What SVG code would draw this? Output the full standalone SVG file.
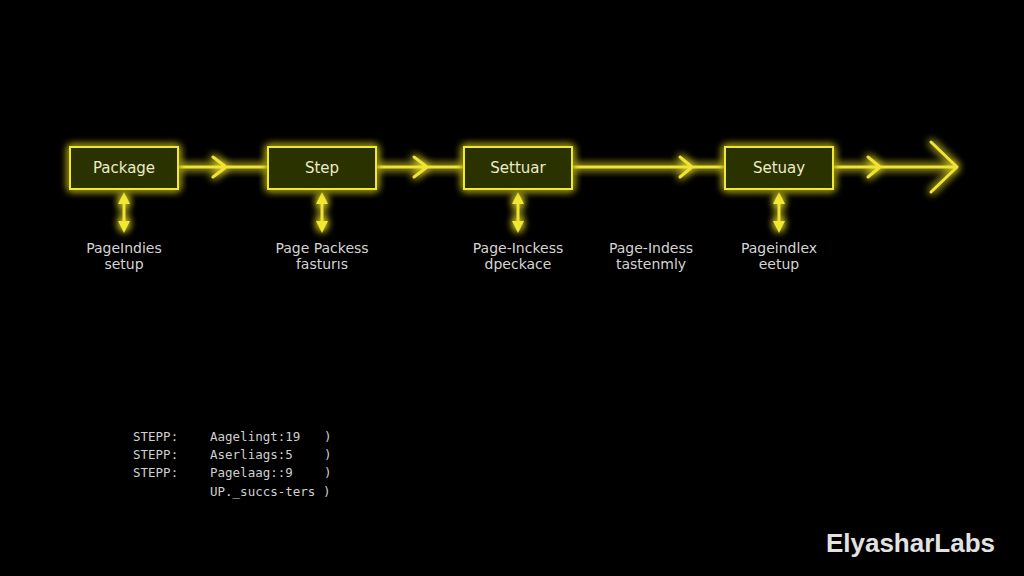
<svg xmlns="http://www.w3.org/2000/svg" width="1024" height="576" viewBox="0 0 1024 576">
<defs>
<filter id="glow" x="-50%" y="-50%" width="200%" height="200%">
<feGaussianBlur in="SourceGraphic" stdDeviation="4" result="b"/>
<feMerge><feMergeNode in="b"/><feMergeNode in="b"/><feMergeNode in="SourceGraphic"/></feMerge>
</filter>
<marker id="ah" viewBox="0 0 10 10" refX="5" refY="5" markerWidth="4" markerHeight="4" orient="auto-start-reverse" markerUnits="strokeWidth">
<path d="M0,0 L10,5 L0,10 z" fill="#f0e830"/>
</marker>
</defs>
<style>
.box{fill:#2b3104;stroke:#f2e830;stroke-width:2}
.ln{stroke:#f0e430;stroke-width:3;fill:none;stroke-linecap:round;stroke-linejoin:round}
.bt{font-family:"DejaVu Sans",sans-serif;font-size:15px;fill:#ecebc8;text-anchor:middle}
.lb{font-family:"DejaVu Sans",sans-serif;font-size:14px;fill:#d4d4d4;text-anchor:middle}
.mono{font-family:"DejaVu Sans Mono",monospace;font-size:12.5px;fill:#cfcfcf}
</style>
<rect width="1024" height="576" fill="#000"/>
<g id="connectors" filter="url(#glow)">
<path class="ln" d="M178,167 H268 M213,157 L226,167 L213,177"/>
<path class="ln" d="M376,167 H464 M414,157 L427,167 L414,177"/>
<path class="ln" d="M572,167 H725 M680,157 L692,167 L680,177"/>
<path class="ln" d="M833,167 H956 M868,157 L880,167 L868,177 M931,142 L957,167 L931,192"/>
<line class="ln" x1="124" y1="198" x2="124" y2="227" marker-start="url(#ah)" marker-end="url(#ah)" stroke-width="2.5"/>
<line class="ln" x1="322" y1="198" x2="322" y2="227" marker-start="url(#ah)" marker-end="url(#ah)" stroke-width="2.5"/>
<line class="ln" x1="518" y1="198" x2="518" y2="227" marker-start="url(#ah)" marker-end="url(#ah)" stroke-width="2.5"/>
<line class="ln" x1="779" y1="198" x2="779" y2="227" marker-start="url(#ah)" marker-end="url(#ah)" stroke-width="2.5"/>
</g>
<g id="node1"><rect class="box" x="70" y="147" width="108" height="42" filter="url(#glow)"/><text class="bt" x="124" y="173">Package</text></g>
<g id="node2"><rect class="box" x="268" y="147" width="108" height="42" filter="url(#glow)"/><text class="bt" x="322" y="173">Step</text></g>
<g id="node3"><rect class="box" x="464" y="147" width="108" height="42" filter="url(#glow)"/><text class="bt" x="518" y="173">Settuar</text></g>
<g id="node4"><rect class="box" x="725" y="147" width="108" height="42" filter="url(#glow)"/><text class="bt" x="779" y="173">Setuay</text></g>
<g id="labels">
<text class="lb" x="124" y="253">PageIndies</text><text class="lb" x="124" y="269">setup</text>
<text class="lb" x="322" y="253">Page Packess</text><text class="lb" x="322" y="269">fasturıs</text>
<text class="lb" x="518" y="253">Page-Inckess</text><text class="lb" x="518" y="269">dpeckace</text>
<text class="lb" x="651" y="253">Page-Indess</text><text class="lb" x="651" y="269">tastenmly</text>
<text class="lb" x="779" y="253">Pageindlex</text><text class="lb" x="779" y="269">eetup</text>
</g>
<g id="log">
<text class="mono" x="133" y="441">STEPP:</text><text class="mono" x="210" y="441">Aagelingt:19</text><text class="mono" x="324" y="441">)</text>
<text class="mono" x="133" y="459">STEPP:</text><text class="mono" x="210" y="459">Aserliags:5</text><text class="mono" x="324" y="459">)</text>
<text class="mono" x="133" y="477">STEPP:</text><text class="mono" x="210" y="477">Pagelaag::9</text><text class="mono" x="324" y="477">)</text>
<text class="mono" x="210" y="496">UP._succs-ters )</text>
</g>
<text x="995" y="552" font-family="Liberation Sans, Arial, sans-serif" font-weight="bold" font-size="26" fill="#e2e2e2" text-anchor="end">ElyasharLabs</text>
</svg>
